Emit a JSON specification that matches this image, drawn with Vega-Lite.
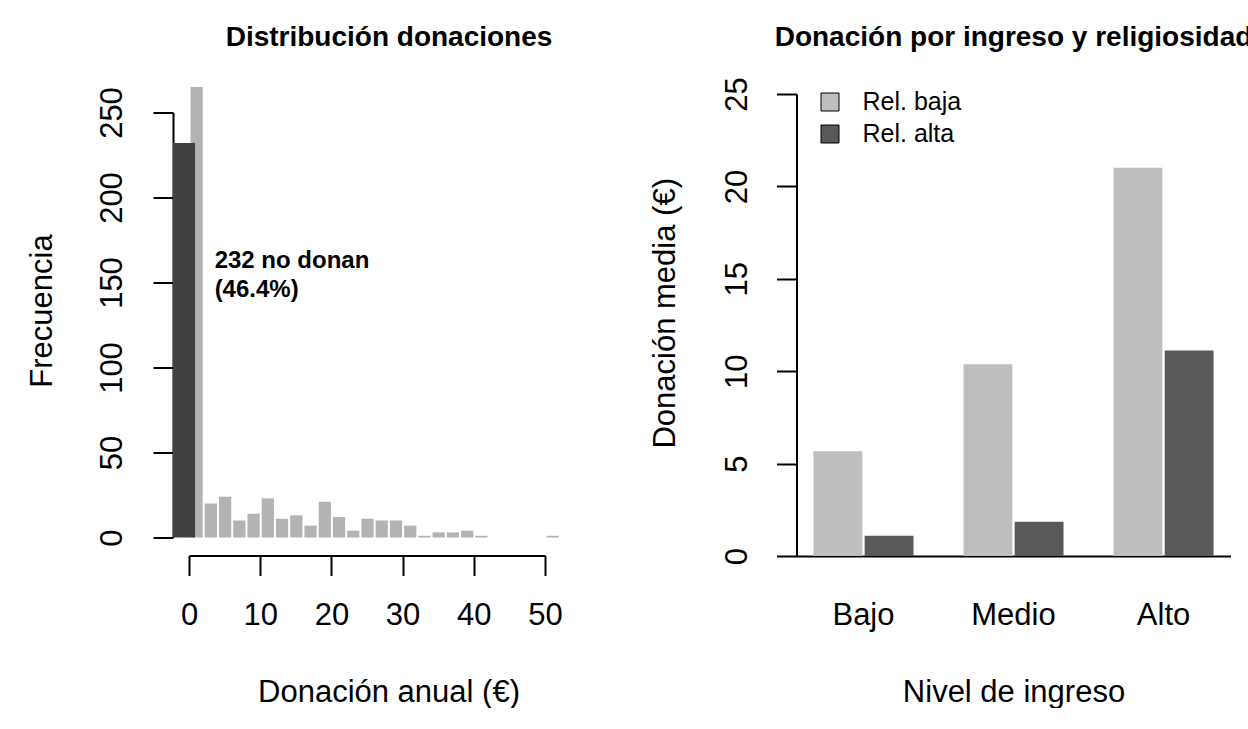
{
  "$schema": "https://vega.github.io/schema/vega-lite/v6.json",
  "autosize": {"type": "pad"},
  "padding": {"left": 26, "top": 24, "right": 0, "bottom": 0},
  "background": "white",
  "spacing": 251.5,
  "bounds": "flush",
  "center": true,
  "resolve": {"legend": {"color": "independent"}, "scale": {"color": "independent"}},
  "config": {
    "font": "Liberation Sans",
    "view": {"stroke": null},
    "axis": {
      "grid": false,
      "domainColor": "black",
      "tickColor": "black",
      "labelColor": "black",
      "titleColor": "black",
      "domainWidth": 2,
      "tickWidth": 2,
      "tickSize": 20,
      "labelFont": "Liberation Sans",
      "titleFont": "Liberation Sans",
      "labelFontSize": 31,
      "titleFontSize": 31,
      "titleFontWeight": "normal",
      "labelBaseline": "alphabetic",
      "titleBaseline": "alphabetic",
      "labelFlush": false,
      "labelOverlap": false
    },
    "title": {"font": "Liberation Sans", "fontSize": 28, "fontWeight": "bold", "color": "black"}
  },
  "datasets": {
    "hist": [
      {"desde": 0, "hasta": 2, "frecuencia": 265},
      {"desde": 2, "hasta": 4, "frecuencia": 20},
      {"desde": 4, "hasta": 6, "frecuencia": 24},
      {"desde": 6, "hasta": 8, "frecuencia": 10},
      {"desde": 8, "hasta": 10, "frecuencia": 14},
      {"desde": 10, "hasta": 12, "frecuencia": 23},
      {"desde": 12, "hasta": 14, "frecuencia": 11},
      {"desde": 14, "hasta": 16, "frecuencia": 13},
      {"desde": 16, "hasta": 18, "frecuencia": 7},
      {"desde": 18, "hasta": 20, "frecuencia": 21},
      {"desde": 20, "hasta": 22, "frecuencia": 12},
      {"desde": 22, "hasta": 24, "frecuencia": 4},
      {"desde": 24, "hasta": 26, "frecuencia": 11},
      {"desde": 26, "hasta": 28, "frecuencia": 10},
      {"desde": 28, "hasta": 30, "frecuencia": 10},
      {"desde": 30, "hasta": 32, "frecuencia": 7},
      {"desde": 32, "hasta": 34, "frecuencia": 1},
      {"desde": 34, "hasta": 36, "frecuencia": 3},
      {"desde": 36, "hasta": 38, "frecuencia": 3},
      {"desde": 38, "hasta": 40, "frecuencia": 4},
      {"desde": 40, "hasta": 42, "frecuencia": 1},
      {"desde": 50, "hasta": 52, "frecuencia": 1}
    ],
    "ceros": [
      {"desde": -2.25, "hasta": 0.85, "frecuencia": 232}
    ],
    "nota": [
      {"donacion": 3.6, "frecuencia": 158.3, "texto": "232 no donan\n(46.4%)"}
    ],
    "medias": [
      {"ingreso": "Bajo", "religiosidad": "Rel. baja", "donacion": 5.67},
      {"ingreso": "Bajo", "religiosidad": "Rel. alta", "donacion": 1.10},
      {"ingreso": "Medio", "religiosidad": "Rel. baja", "donacion": 10.38},
      {"ingreso": "Medio", "religiosidad": "Rel. alta", "donacion": 1.86},
      {"ingreso": "Alto", "religiosidad": "Rel. baja", "donacion": 21.01},
      {"ingreso": "Alto", "religiosidad": "Rel. alta", "donacion": 11.12}
    ]
  },
  "hconcat": [
    {
      "width": 356,
      "height": 425,
      "title": {"text": "Distribución donaciones", "anchor": "middle", "dx": 22, "offset": 34.2},
      "layer": [
        {
          "data": {"name": "hist"},
          "mark": {"type": "bar", "color": "#B3B3B3", "binSpacing": 2},
          "encoding": {
            "x": {
              "field": "desde", "type": "quantitative", "bin": "binned",
              "scale": {"domain": [0, 50], "nice": false, "zero": false},
              "axis": {
                "values": [0, 10, 20, 30, 40, 50],
                "offset": 18,
                "labelPadding": 49,
                "title": "Donación anual (€)",
                "titleX": 199.5,
                "titleY": 145.7,
                "titleAlign": "center"
              }
            },
            "x2": {"field": "hasta"},
            "y": {
              "field": "frecuencia", "type": "quantitative",
              "scale": {"domain": [0, 250], "nice": false},
              "axis": {
                "values": [0, 50, 100, 150, 200, 250],
                "offset": 16,
                "labelAngle": -90,
                "labelAlign": "center",
                "labelPadding": 32,
                "title": "Frecuencia",
                "titleAngle": -90,
                "titleAlign": "center",
                "titleX": -121.3,
                "titleY": 198
              }
            }
          }
        },
        {
          "data": {"name": "ceros"},
          "mark": {"type": "bar", "color": "#404040"},
          "encoding": {
            "x": {"field": "desde", "type": "quantitative"},
            "x2": {"field": "hasta"},
            "y": {"field": "frecuencia", "type": "quantitative"},
            "y2": {"datum": 0}
          }
        },
        {
          "data": {"name": "nota"},
          "mark": {"type": "text", "align": "left", "baseline": "alphabetic", "fontWeight": "bold", "fontSize": 24, "lineHeight": 28.5, "lineBreak": "\n", "color": "black"},
          "encoding": {
            "x": {"field": "donacion", "type": "quantitative"},
            "y": {"field": "frecuencia", "type": "quantitative"},
            "text": {"field": "texto"}
          }
        }
      ]
    },
    {
      "width": 434,
      "height": 462,
      "title": {"text": "Donación por ingreso y religiosidad", "anchor": "middle", "offset": 24.7},
      "data": {"name": "medias"},
      "mark": {"type": "bar"},
      "encoding": {
        "x": {
          "field": "ingreso", "type": "nominal", "sort": ["Bajo", "Medio", "Alto"],
          "scale": {"paddingInner": 0.3333, "paddingOuter": 0.113},
          "axis": {
            "labelAngle": 0,
            "tickSize": 0,
            "labelPadding": 68,
            "title": "Nivel de ingreso",
            "titleX": 217,
            "titleY": 145,
            "titleAlign": "center"
          }
        },
        "xOffset": {
          "field": "religiosidad", "type": "nominal", "sort": ["Rel. baja", "Rel. alta"],
          "scale": {"paddingInner": 0.046, "paddingOuter": 0}
        },
        "y": {
          "field": "donacion", "type": "quantitative",
          "scale": {"domain": [0, 25], "nice": false},
          "axis": {
            "values": [0, 5, 10, 15, 20, 25],
            "labelAngle": -90,
            "labelAlign": "center",
            "labelPadding": 30,
            "title": "Donación media (€)",
            "titleAngle": -90,
            "titleAlign": "center",
            "titleX": -122.3,
            "titleY": 218.8
          }
        },
        "color": {
          "field": "religiosidad", "type": "nominal",
          "scale": {"domain": ["Rel. baja", "Rel. alta"], "range": ["#BEBEBE", "#595959"]},
          "legend": {
            "title": null,
            "orient": "none",
            "legendX": 21,
            "legendY": -4.5,
            "padding": 0,
            "symbolType": "square",
            "symbolSize": 324,
            "symbolStrokeColor": "black",
            "symbolStrokeWidth": 1,
            "symbolOpacity": 1,
            "labelFont": "Liberation Sans",
            "labelFontSize": 25,
            "labelColor": "black",
            "labelOffset": 20,
            "rowPadding": 6
          }
        }
      }
    }
  ]
}
